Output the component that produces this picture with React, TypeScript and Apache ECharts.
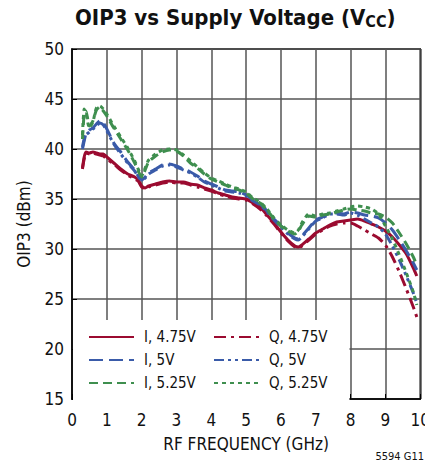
import React, { useEffect, useRef } from "react";
import * as echarts from "echarts";

const FREQ = [0.3, 0.35, 0.4, 0.5, 0.6, 0.7, 0.8, 0.9, 1.0, 1.2, 1.4, 1.6, 1.8, 1.9, 2.0, 2.1, 2.2, 2.4, 2.6, 2.8, 3.0, 3.2, 3.4, 3.6, 3.8, 4.0, 4.2, 4.4, 4.6, 4.8, 5.0, 5.2, 5.4, 5.6, 5.8, 6.0, 6.2, 6.4, 6.5, 6.6, 6.8, 7.0, 7.2, 7.4, 7.6, 7.8, 8.0, 8.2, 8.4, 8.6, 8.8, 9.0, 9.2, 9.4, 9.6, 9.8, 9.9];

const I_475 = [38.1, 39.2, 39.7, 39.6, 39.7, 39.6, 39.5, 39.5, 39.2, 38.6, 38.0, 37.5, 37.2, 36.9, 36.3, 36.1, 36.3, 36.5, 36.7, 36.8, 36.7, 36.7, 36.5, 36.4, 36.1, 35.9, 35.6, 35.4, 35.2, 35.1, 35.0, 34.6, 34.2, 33.4, 32.6, 31.7, 30.9, 30.3, 30.2, 30.4, 31.0, 31.6, 32.0, 32.4, 32.7, 32.8, 32.9, 33.0, 32.8, 32.5, 32.2, 31.8, 31.2, 30.4, 29.5, 28.1, 27.3];
const Q_475 = [38.0, 39.0, 39.6, 39.5, 39.6, 39.5, 39.4, 39.3, 39.0, 38.5, 37.9, 37.4, 37.0, 36.8, 36.2, 36.0, 36.2, 36.4, 36.6, 36.7, 36.6, 36.6, 36.4, 36.2, 36.0, 35.8, 35.5, 35.3, 35.1, 35.0, 34.9, 34.5, 34.0, 33.3, 32.5, 31.6, 30.8, 30.2, 30.1, 30.3, 30.9, 31.5, 31.9, 32.3, 32.5, 32.6, 32.6, 32.3, 31.9, 31.5, 31.1, 30.4, 29.2, 27.7, 26.0, 24.2, 23.2];
const I_5 = [40.0, 40.8, 41.5, 41.9, 42.1, 42.5, 42.8, 42.6, 42.0, 40.6, 39.7, 38.7, 37.9, 37.3, 36.9, 37.2, 37.6, 38.0, 38.4, 38.5, 38.3, 38.0, 37.7, 37.3, 36.8, 36.5, 36.2, 35.9, 35.8, 35.7, 35.4, 34.9, 34.5, 33.8, 33.0, 32.3, 31.6, 31.1, 31.0, 31.3, 32.1, 32.9, 33.2, 33.6, 33.6, 33.5, 33.7, 33.6, 33.4, 33.3, 33.1, 32.6, 31.9, 30.9, 29.8, 28.6, 27.9];
const Q_5 = [40.2, 41.0, 41.4, 41.7, 42.0, 42.3, 42.6, 42.4, 41.8, 40.5, 39.5, 38.6, 37.8, 37.2, 36.9, 37.1, 37.5, 37.9, 38.3, 38.4, 38.2, 37.9, 37.6, 37.2, 36.7, 36.4, 36.1, 35.8, 35.7, 35.6, 35.3, 34.8, 34.4, 33.7, 32.9, 32.2, 31.5, 31.0, 30.9, 31.2, 32.0, 32.8, 33.1, 33.5, 33.5, 33.4, 33.6, 33.4, 33.0, 32.6, 32.2, 31.5, 30.3, 28.9, 27.3, 25.6, 24.6];
const I_525 = [41.0, 43.5, 43.8, 42.3, 42.8, 43.9, 44.2, 43.8, 43.3, 42.1, 41.0, 39.9, 38.6, 37.8, 37.2, 37.9, 38.7, 39.3, 39.7, 39.9, 39.8, 39.3, 38.6, 38.1, 37.5, 37.0, 36.7, 36.4, 36.1, 35.9, 35.6, 35.0, 34.6, 33.9, 33.0, 32.3, 31.8, 31.5, 31.8, 32.4, 33.3, 33.2, 33.4, 33.5, 33.7, 33.9, 34.0, 33.9, 33.8, 33.6, 33.5, 33.2, 32.6, 31.6, 30.5, 29.2, 28.4];
const Q_525 = [41.4, 44.0, 43.6, 42.1, 42.7, 44.1, 44.3, 44.0, 43.5, 42.3, 41.2, 40.1, 38.8, 38.0, 37.3, 38.1, 38.9, 39.5, 39.9, 40.0, 39.9, 39.4, 38.8, 38.2, 37.6, 37.1, 36.8, 36.5, 36.2, 36.0, 35.7, 35.1, 34.7, 34.0, 33.1, 32.4, 31.9, 31.6, 31.9, 32.6, 33.5, 33.3, 33.5, 33.6, 33.8, 34.0, 34.2, 34.3, 34.2, 34.0, 33.5, 32.3, 31.0, 29.4, 27.6, 25.7, 24.4];

const X_TICKS = [0, 1, 2, 3, 4, 5, 6, 7, 8, 9, 10];
const Y_TICKS = [15, 20, 25, 30, 35, 40, 45, 50];

const RED = "#9b0b30";
const BLUE = "#3a5ba9";
const GREEN = "#3f8f4f";
const FONT = "'DejaVu Sans Condensed', 'Liberation Sans', sans-serif";

const SERIES_DEF = [
  { name: "I, 4.75V", values: I_475, color: RED, type: "solid" as any },
  { name: "Q, 4.75V", values: Q_475, color: RED, type: [12, 5, 3, 5] as any },
  { name: "I, 5V", values: I_5, color: BLUE, type: [14, 6] as any },
  { name: "Q, 5V", values: Q_5, color: BLUE, type: [10, 4, 3, 4, 3, 4] as any },
  { name: "I, 5.25V", values: I_525, color: GREEN, type: [9, 5] as any },
  { name: "Q, 5.25V", values: Q_525, color: GREEN, type: [4, 4] as any },
];

export default function App() {
  const ref = useRef<HTMLDivElement>(null);
  useEffect(() => {
    if (!ref.current) return;
    const chart = echarts.init(ref.current, undefined, { renderer: "svg" });
    const legendCommon = {
      orient: "vertical" as const,
      top: 320,
      backgroundColor: "#fff",
      itemWidth: 45,
      itemHeight: 14,
      itemGap: 5,
      itemStyle: { opacity: 0 },
      textStyle: { fontSize: 15, fontFamily: FONT, color: "#111", lineHeight: 18, padding: [0, 0, 0, 5] },
    };
    chart.setOption({
      animation: false,
      title: {
        text: "{a|OIP3 vs Supply Voltage (V}{b|CC}{a|)}",
        left: 70,
        top: 0,
        textStyle: {
          rich: {
            a: { fontSize: 22, fontWeight: "bold", fontFamily: FONT, color: "#111" },
            b: { fontSize: 16, fontWeight: "bold", fontFamily: FONT, color: "#111", padding: [8, 0, 0, 0] },
          },
        },
      },
      grid: {
        left: 72,
        top: 49,
        right: 9,
        bottom: 72,
        show: true,
        borderColor: "#000",
        borderWidth: 1.5,
        backgroundColor: "transparent",
      },
      legend: [
        { ...legendCommon, left: 73, padding: [8, 10, 8, 15], data: ["I, 4.75V", "I, 5V", "I, 5.25V"] },
        { ...legendCommon, left: 199, padding: [8, 22, 8, 14], data: ["Q, 4.75V", "Q, 5V", "Q, 5.25V"] },
      ],
      xAxis: {
        type: "value",
        min: X_TICKS[0],
        max: X_TICKS[X_TICKS.length - 1],
        interval: 1,
        name: "RF FREQUENCY (GHz)",
        nameLocation: "middle",
        nameGap: 36,
        nameTextStyle: { fontSize: 17, fontFamily: FONT, color: "#111" },
        axisLine: { show: true, lineStyle: { color: "#000", width: 1.5 } },
        axisTick: { show: true, inside: true, length: 5, lineStyle: { color: "#000", width: 1 } },
        axisLabel: { fontSize: 17, fontFamily: FONT, color: "#111", margin: 12 },
        splitLine: { show: true, lineStyle: { color: "#555", width: 1.5 } },
      },
      yAxis: {
        type: "value",
        min: Y_TICKS[0],
        max: Y_TICKS[Y_TICKS.length - 1],
        interval: 5,
        name: "OIP3 (dBm)",
        nameLocation: "middle",
        nameGap: 40,
        nameTextStyle: { fontSize: 17, fontFamily: FONT, color: "#111" },
        axisLine: { show: true, lineStyle: { color: "#000", width: 1.5 } },
        axisTick: { show: true, inside: true, length: 5, lineStyle: { color: "#000", width: 1 } },
        axisLabel: { fontSize: 17, fontFamily: FONT, color: "#111", margin: 8 },
        splitLine: { show: true, lineStyle: { color: "#555", width: 1.5 } },
      },
      graphic: [
        {
          type: "text",
          right: 9,
          top: 451,
          style: { text: "5594 G11", fontSize: 11, fontFamily: FONT, fill: "#111" },
        },
      ],
      series: SERIES_DEF.map((s) => ({
        name: s.name,
        type: "line",
        symbol: "none",
        smooth: 0.2,
        data: FREQ.map((f, i) => [f, s.values[i]]),
        lineStyle: { color: s.color, width: 3, type: s.type },
        itemStyle: { color: s.color },
      })),
    });
    return () => chart.dispose();
  }, []);
  return <div ref={ref} style={{ width: 433, height: 471, margin: -8 }} />;
}
